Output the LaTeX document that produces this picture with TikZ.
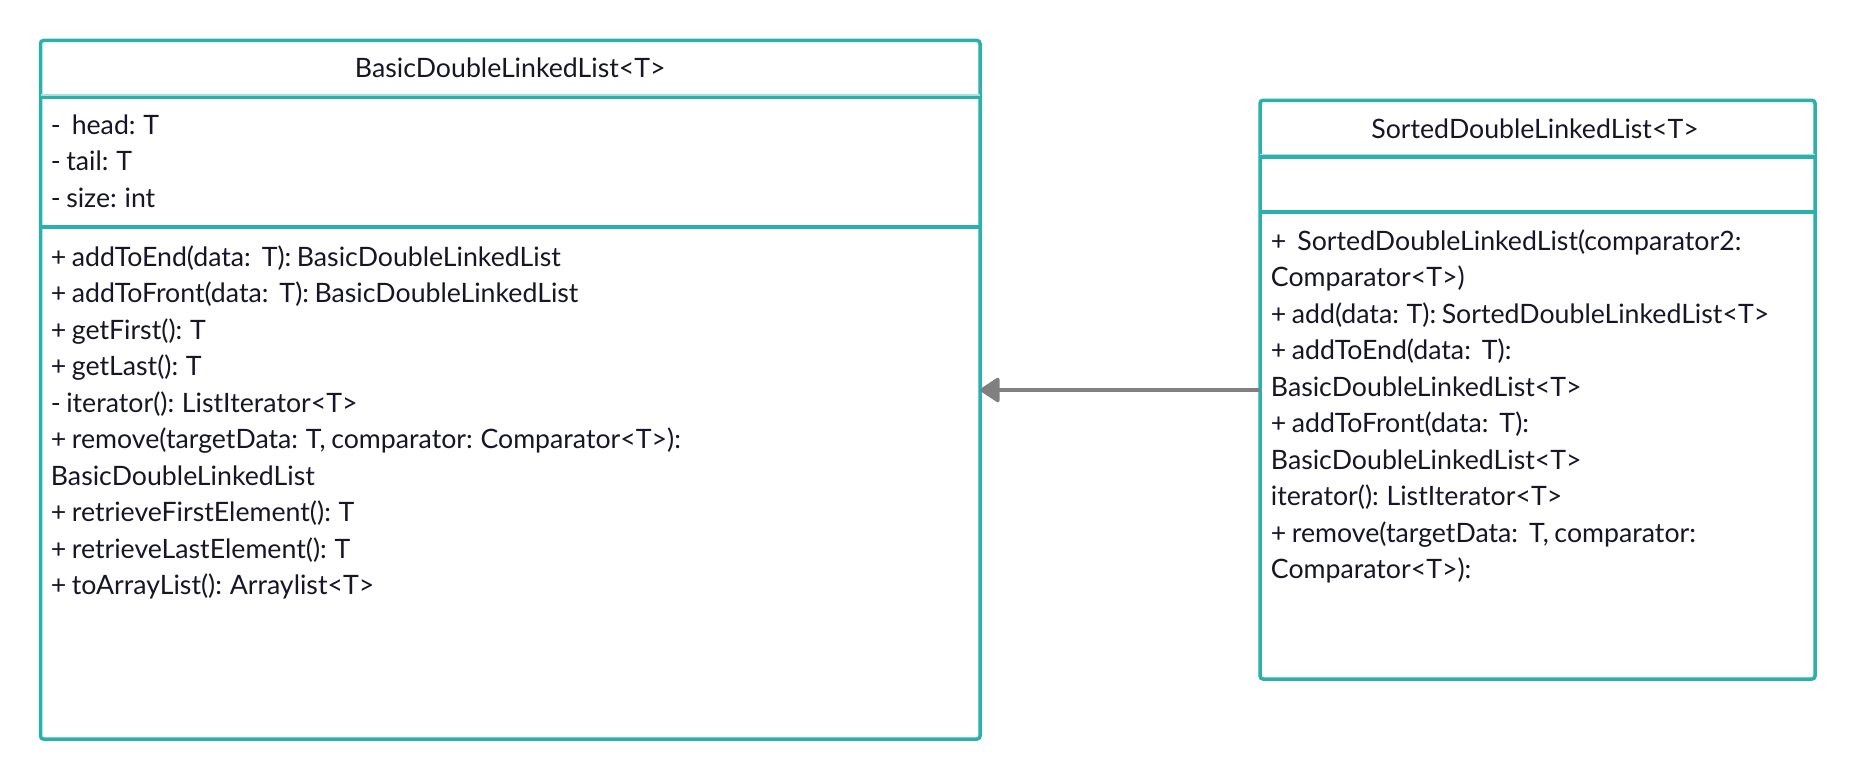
\documentclass[tikz,border=0pt]{standalone}
\usepackage{fontspec}
\setmainfont{Lato}[WordSpace=0.8]
\usetikzlibrary{arrows.meta}
\definecolor{tealline}{HTML}{2AB1AE}
\definecolor{teallight}{HTML}{A9E0DE}
\definecolor{txt}{HTML}{161628}
\definecolor{arrgray}{HTML}{808080}
\begin{document}
\begin{tikzpicture}[x=0.5pt,y=-0.5pt,
  classbox/.style={draw=tealline, line width=1.75pt, rounded corners=1.5pt, anchor=north west,
    inner sep=0pt, outer sep=0pt, fill=white},
  sepline/.style={draw=tealline, line width=1.6pt},
  seplight/.style={draw=teallight, line width=0.7pt},
  member/.style={anchor=base west, inner sep=0pt, text=txt, font=\fontsize{13.35pt}{16pt}\selectfont},
  classtitle/.style={anchor=base, inner sep=0pt, text=txt, font=\fontsize{13.35pt}{16pt}\selectfont},
  inherit/.style={draw=arrgray, line width=1.7pt, -{Triangle[length=10.5pt,width=13.3pt,round]}}]
\useasboundingbox[fill=white] (0,0) rectangle (1856,781);

% boxes
\node[classbox, minimum width=469.75pt, minimum height=349.25pt] (basic) at (40.5,40.5) {};
\node[classbox, minimum width=277.5pt, minimum height=289.35pt] (sorted) at (1260,100.3) {};

% separators
\draw[seplight] (basic.west |- 0,95) -- (basic.east |- 0,95);
\draw[sepline] (basic.west |- 0,97.2) -- (basic.east |- 0,97.2);
\draw[sepline] (basic.west |- 0,227) -- (basic.east |- 0,227);
\draw[seplight] (sorted.west |- 0,154.8) -- (sorted.east |- 0,154.8);
\draw[sepline] (sorted.west |- 0,157) -- (sorted.east |- 0,157);
\draw[sepline] (sorted.west |- 0,212) -- (sorted.east |- 0,212);

% titles
\node[classtitle] (basic-title) at (510.25,78) {BasicDoubleLinkedList<T>};
\node[classtitle] (sorted-title) at (1535,138) {SortedDoubleLinkedList<T>};

% BasicDoubleLinkedList attributes
\node[member] (b-a1) at (50.5,134) {-\ \ head: T};
\node[member] (b-a2) at (50.5,170.5) {- tail: T};
\node[member] (b-a3) at (50.5,207) {- size: int};

% BasicDoubleLinkedList methods
\node[member] (b-m1) at (50.5,266) {+ addToEnd(data:\ \ T): BasicDoubleLinkedList};
\node[member] (b-m2) at (50.5,302.5) {+ addToFront(data:\ \ T): BasicDoubleLinkedList};
\node[member] (b-m3) at (50.5,339) {+ getFirst(): T};
\node[member] (b-m4) at (50.5,375.5) {+ getLast(): T};
\node[member] (b-m5) at (50.5,412) {- iterator(): ListIterator<T>};
\node[member] (b-m6) at (50.5,448.5) {+ remove(targetData: T, comparator: Comparator<T>):};
\node[member] (b-m7) at (50.5,485) {BasicDoubleLinkedList};
\node[member] (b-m8) at (50.5,521.5) {+ retrieveFirstElement(): T};
\node[member] (b-m9) at (50.5,558) {+ retrieveLastElement(): T};
\node[member] (b-m10) at (50.5,594.5) {+ toArrayList(): Arraylist<T>};

% SortedDoubleLinkedList methods
\node[member] (s-m1) at (1270.5,250) {+\ \ SortedDoubleLinkedList(comparator2:};
\node[member] (s-m2) at (1270.5,286.5) {Comparator<T>)};
\node[member] (s-m3) at (1270.5,323) {+ add(data: T): SortedDoubleLinkedList<T>};
\node[member] (s-m4) at (1270.5,359.5) {+ addToEnd(data:\ \ T):};
\node[member] (s-m5) at (1270.5,396) {BasicDoubleLinkedList<T>};
\node[member] (s-m6) at (1270.5,432.5) {+ addToFront(data:\ \ T):};
\node[member] (s-m7) at (1270.5,469) {BasicDoubleLinkedList<T>};
\node[member] (s-m8) at (1270.5,505.5) {iterator(): ListIterator<T>};
\node[member] (s-m9) at (1270.5,542) {+ remove(targetData:\ \ T, comparator:};
\node[member] (s-m10) at (1270.5,578.5) {Comparator<T>):};

% inheritance
\draw[inherit] (sorted.west |- 0,390) -- (basic.east |- 0,390);
\end{tikzpicture}
\end{document}
